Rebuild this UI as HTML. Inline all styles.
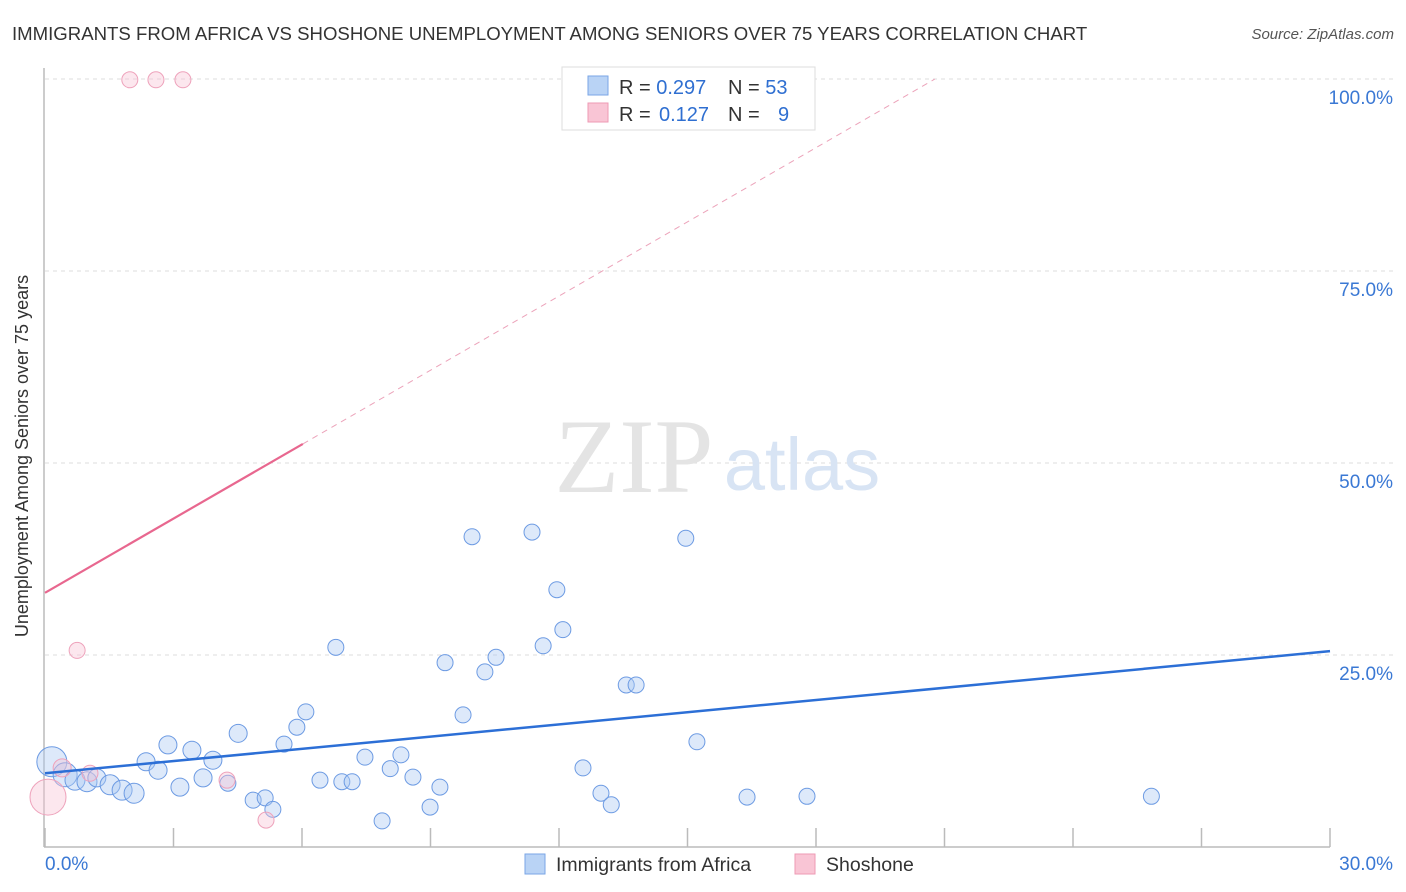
<!DOCTYPE html>
<html><head><meta charset="utf-8"><style>
body{margin:0;background:#fff;font-family:"Liberation Sans",sans-serif;}
svg{display:block}
</style></head><body>
<svg width="1406" height="892" xmlns="http://www.w3.org/2000/svg">
<text x="12" y="40" font-size="18.6" fill="#333">IMMIGRANTS FROM AFRICA VS SHOSHONE UNEMPLOYMENT AMONG SENIORS OVER 75 YEARS CORRELATION CHART</text>
<text x="1394" y="39" font-size="15" fill="#555" text-anchor="end" font-style="italic">Source: ZipAtlas.com</text>
<g id="grid"></g>
<text x="634" y="492" font-size="106" fill="#e4e4e4" font-family="Liberation Serif,serif" text-anchor="middle">ZIP</text>
<text x="802" y="490" font-size="74" fill="#d8e4f4" text-anchor="middle">atlas</text>
<g id="axes"></g>
<g id="pts"></g>
<g id="trends"></g>
<text x="28" y="456" font-size="18" fill="#333" text-anchor="middle" transform="rotate(-90 28 456)">Unemployment Among Seniors over 75 years</text>
<g>
<rect x="562" y="67" width="253" height="63" fill="#fff" stroke="#ddd"/>
<rect x="588" y="76" width="20" height="19" fill="#b9d3f5" stroke="#7aa6e6"/>
<rect x="588" y="103" width="20" height="19" fill="#f9c5d5" stroke="#ee9ab4"/>
<text x="619" y="94" font-size="20" fill="#333">R = <tspan fill="#2f6fd1">0.297</tspan><tspan x="728">N = </tspan><tspan fill="#2f6fd1">53</tspan></text>
<text x="619" y="121" font-size="20" fill="#333">R = <tspan x="659" fill="#2f6fd1">0.127</tspan><tspan x="728">N = </tspan><tspan x="778" fill="#2f6fd1">9</tspan></text>
</g>
<g>
<rect x="525" y="854" width="20" height="20" fill="#b9d3f5" stroke="#7aa6e6"/>
<text x="556" y="871" font-size="19.5" fill="#333">Immigrants from Africa</text>
<rect x="795" y="854" width="20" height="20" fill="#f9c5d5" stroke="#ee9ab4"/>
<text x="826" y="871" font-size="19.5" fill="#333">Shoshone</text>
</g>
</svg>
<script>
const blueX=[0.16,0.47,0.70,0.98,1.21,1.52,1.80,2.08,2.36,2.64,2.87,3.15,3.43,3.69,3.92,4.27,4.51,4.86,5.14,5.32,5.58,5.88,6.09,6.42,6.79,6.93,7.17,7.47,7.87,8.06,8.31,8.59,8.99,9.22,9.34,9.76,9.97,10.27,10.53,11.37,11.63,11.95,12.09,12.56,12.98,13.22,13.57,13.80,14.96,15.22,16.39,17.79,25.83];
const blueY=[11.1,9.4,8.7,8.5,9.0,8.1,7.4,7.0,11.1,10.0,13.3,7.8,12.6,9.0,11.3,8.3,14.8,6.1,6.4,4.9,13.4,15.6,17.6,8.7,26.0,8.5,8.5,11.7,3.4,10.2,12.0,9.1,5.2,7.8,24.0,17.2,40.4,22.8,24.7,41.0,26.2,33.5,28.3,10.3,7.0,5.5,21.1,21.1,40.2,13.7,6.5,6.6,6.6];
const blueSize=[15,12,10,10,9,10,10,10,9,9,9,9,9,9,9,8,9,8,8,8,8,8,8,8,8,8,8,8,8,8,8,8,8,8,8,8,8,8,8,8,8,8,8,8,8,8,8,8,8,8,8,8,8];
const pinkX=[1.98,2.59,3.22,0.75,1.05,4.25,5.16,0.07,0.40];
const pinkY=[99.9,99.9,99.9,25.6,9.6,8.7,3.5,6.5,10.3];
const pinkSize=[8,8,8,8,8,8,8,18,9];
const blueTrend=[9.6,25.5];
const pinkTrend=[33.1,3.22];
const yTicks=[25,50,75,100];
const yTickLabels=["25.0%","50.0%","75.0%","100.0%"];
const xTicks=[0,3,6,9,12,15,18,21,24,27,30];
const NS="http://www.w3.org/2000/svg";
const X0=45,X1=1330,Y0=847,Y100=79;
const sx=v=>X0+(v/30)*(X1-X0);
const sy=v=>Y0-(v/100)*(Y0-Y100);
function mk(tag,attrs,parent){const e=document.createElementNS(NS,tag);for(const k in attrs)e.setAttribute(k,attrs[k]);parent.appendChild(e);return e;}
const grid=document.getElementById('grid'),axes=document.getElementById('axes'),pts=document.getElementById('pts'),tr=document.getElementById('trends');
yTicks.forEach((t,i)=>{
 const l=mk('line',{x1:X0,x2:1394,y1:sy(t),y2:sy(t),stroke:'#ddd','stroke-dasharray':'4,4'},grid);
 
 
 const tx=mk('text',{x:1393,y:sy(t)+25,'font-size':19,fill:'#3a78d4','text-anchor':'end'},axes);
 tx.textContent=yTickLabels[i];
 
 
});
const ax=mk('line',{x1:44,x2:44,y1:68,y2:Y0,stroke:'#bbb','stroke-width':1.5},axes);


const bx=mk('line',{x1:44,x2:X1,y1:Y0,y2:Y0,stroke:'#bbb','stroke-width':1.5},axes);


xTicks.forEach(t=>{
 const l=mk('line',{x1:sx(t),x2:sx(t),y1:828,y2:Y0,stroke:'#bbb','stroke-width':1.5},axes);
 
 
});
const xl0=mk('text',{x:45,y:870,'font-size':19,fill:'#3a78d4'},axes);xl0.textContent='0.0%';


const xl1=mk('text',{x:1393,y:870,'font-size':19,fill:'#3a78d4','text-anchor':'end'},axes);xl1.textContent='30.0%';


blueX.forEach((v,i)=>{
 const c=mk('circle',{cx:sx(v),cy:sy(blueY[i]),r:blueSize[i],fill:'rgba(170,200,242,0.4)',stroke:'#6d9be3','stroke-width':1},pts);
 
 
});
pinkX.forEach((v,i)=>{
 const c=mk('circle',{cx:sx(v),cy:sy(pinkY[i]),r:pinkSize[i],fill:'rgba(248,195,212,0.4)',stroke:'#eea2bb','stroke-width':1},pts);
 
 
});
const bl=mk('line',{x1:sx(0),y1:sy(blueTrend[0]),x2:sx(30),y2:sy(blueTrend[1]),stroke:'#2c6fd6','stroke-width':2.5},tr);


const pEnd=6.02,pTop=(100-pinkTrend[0])/pinkTrend[1];
const pl=mk('line',{x1:sx(0),y1:sy(pinkTrend[0]),x2:sx(pEnd),y2:sy(pinkTrend[0]+pinkTrend[1]*pEnd),stroke:'#e8678f','stroke-width':2.2},tr);


const pd=mk('line',{x1:sx(pEnd),y1:sy(pinkTrend[0]+pinkTrend[1]*pEnd),x2:sx(pTop),y2:sy(100),stroke:'#eca3ba','stroke-width':1,'stroke-dasharray':'6,5'},tr);


</script>
</body></html>
